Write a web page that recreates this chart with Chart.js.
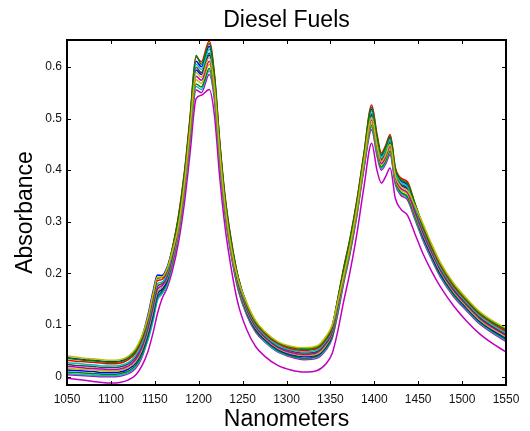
<!DOCTYPE html>
<html>
<head>
<meta charset="utf-8">
<title>Diesel Fuels</title>
<script src="https://cdn.jsdelivr.net/npm/chart.js@4"></script>
<style>
  html, body { margin: 0; padding: 0; background: #fff; }
  #wrap { width: 530px; height: 431px; }
</style>
</head>
<body>
<div id="wrap"><canvas id="spectra" width="530" height="431"></canvas></div>
<script>
// wavelengths (nm) the spectra were read at
const nm = [1050,1060,1070,1080,1090,1100,1110,1120,1128,1135,1142,1148,1153,1158,1164,1170,
    1177,1184,1190,1197,1203,1212,1218,1224,1230,1237,1245,1255,1265,1275,1290,1305,
    1320,1335,1345,1352,1358,1365,1372,1380,1388,1397,1403,1408,1413,1418,1424,1430,
    1438,1446,1455,1465,1475,1490,1505,1520,1535,1550];

// absorbance, one array per fuel sample
const fuel01 = [.040,.038,.036,.035,.033,.032,.033,.040,.054,.078,.114,.160,.193,.193,.209,.243,
    .293,.380,.478,.589,.580,.618,.560,.435,.333,.250,.188,.142,.108,.088,.068,.059,
    .056,.060,.078,.100,.142,.195,.250,.325,.415,.502,.449,.417,.430,.450,.389,.369,
    .360,.332,.298,.258,.222,.182,.152,.126,.108,.094];
const fuel02 = [.036,.034,.032,.031,.029,.028,.029,.036,.049,.073,.112,.158,.191,.192,.208,.248,
    .309,.397,.496,.622,.605,.645,.581,.452,.347,.263,.192,.139,.105,.086,.066,.057,
    .053,.057,.075,.097,.147,.208,.263,.338,.428,.522,.467,.430,.445,.466,.402,.382,
    .374,.337,.294,.254,.219,.179,.149,.123,.105,.091];
const fuel03 = [.032,.030,.029,.028,.026,.025,.026,.033,.046,.069,.107,.152,.186,.188,.205,.248,
    .312,.400,.500,.619,.610,.650,.585,.455,.350,.265,.192,.137,.103,.084,.064,.054,
    .051,.055,.072,.094,.146,.210,.265,.340,.430,.526,.470,.433,.448,.469,.405,.385,
    .377,.336,.291,.251,.216,.176,.147,.121,.103,.088];
const fuel04 = [.027,.026,.024,.023,.021,.021,.022,.028,.041,.063,.101,.145,.180,.183,.200,.241,
    .303,.390,.489,.605,.595,.634,.573,.445,.341,.258,.187,.134,.100,.081,.061,.052,
    .048,.052,.069,.091,.140,.203,.258,.333,.423,.514,.460,.425,.439,.459,.397,.377,
    .368,.330,.287,.248,.212,.173,.144,.118,.100,.085];
const fuel05 = [.037,.035,.033,.032,.030,.029,.030,.037,.051,.075,.118,.165,.197,.196,.212,.248,
    .306,.394,.493,.611,.600,.640,.577,.449,.344,.260,.192,.140,.106,.086,.066,.057,
    .054,.058,.076,.098,.146,.205,.260,.335,.425,.518,.463,.428,.442,.463,.400,.380,
    .371,.336,.295,.256,.220,.180,.150,.124,.106,.092];
const fuel06 = [.024,.022,.021,.020,.018,.018,.019,.025,.037,.059,.096,.139,.175,.180,.197,.238,
    .299,.386,.484,.599,.589,.627,.568,.441,.338,.255,.184,.131,.098,.079,.059,.050,
    .046,.049,.066,.088,.137,.200,.255,.330,.420,.509,.455,.421,.435,.455,.393,.373,
    .365,.326,.284,.245,.209,.170,.141,.115,.097,.082];
const fuel07 = [.020,.019,.017,.016,.015,.014,.015,.021,.033,.055,.092,.134,.170,.176,.193,.231,
    .290,.376,.473,.582,.574,.611,.555,.431,.329,.247,.180,.129,.096,.077,.057,.047,
    .043,.047,.064,.086,.132,.192,.247,.322,.412,.497,.445,.413,.426,.446,.385,.365,
    .356,.320,.280,.242,.207,.168,.139,.113,.095,.080];
const fuel08 = [.017,.015,.014,.013,.012,.011,.012,.018,.029,.051,.087,.128,.165,.173,.190,.228,
    .286,.372,.469,.575,.568,.605,.550,.427,.326,.244,.177,.126,.094,.075,.055,.045,
    .041,.044,.061,.083,.128,.189,.244,.319,.409,.492,.441,.410,.423,.442,.382,.362,
    .353,.317,.277,.239,.204,.165,.136,.110,.092,.077];
const fuel09 = [.013,.012,.011,.010,.008,.008,.009,.015,.026,.047,.082,.122,.160,.169,.187,.231,
    .297,.383,.481,.594,.585,.623,.564,.438,.335,.252,.179,.124,.092,.073,.053,.043,
    .039,.042,.059,.081,.131,.197,.252,.327,.417,.506,.452,.419,.433,.453,.391,.371,
    .362,.320,.274,.236,.201,.163,.134,.108,.090,.075];
const fuel10 = [.009,.008,.007,.006,.005,.005,.006,.011,.022,.042,.077,.117,.155,.165,.183,.222,
    .282,.367,.463,.567,.561,.597,.544,.422,.321,.240,.172,.122,.089,.071,.051,.041,
    .036,.040,.056,.078,.123,.185,.240,.315,.405,.487,.436,.406,.419,.437,.378,.358,
    .348,.312,.271,.233,.198,.160,.132,.106,.088,.072];
const fuel11 = [.007,.005,.004,.003,.002,.002,.003,.008,.019,.039,.070,.108,.148,.160,.178,.219,
    .279,.364,.460,.562,.556,.592,.540,.419,.319,.238,.170,.120,.088,.069,.049,.040,
    .035,.038,.054,.076,.121,.183,.238,.313,.403,.483,.432,.403,.416,.434,.375,.355,
    .346,.309,.268,.230,.196,.158,.130,.104,.086,.070];
const fuel12 = [.004,.003,.002,.001,.000,.000,.001,.006,.016,.036,.073,.112,.151,.163,.180,.216,
    .275,.360,.455,.555,.550,.585,.535,.415,.315,.235,.168,.118,.086,.068,.048,.038,
    .033,.036,.052,.074,.118,.180,.235,.310,.400,.478,.428,.400,.412,.430,.372,.352,
    .342,.306,.266,.228,.194,.156,.128,.102,.084,.068];
const fuel13 = [-.003,-.005,-.007,-.009,-.011,-.012,-.011,-.006,.003,.020,.048,.085,.122,.150,.172,.205,
    .260,.340,.430,.538,.545,.556,.505,.385,.290,.210,.140,.090,.058,.040,.022,.013,
    .009,.012,.025,.045,.085,.145,.200,.275,.365,.452,.400,.375,.388,.404,.345,.325,
    .312,.278,.240,.205,.175,.138,.108,.083,.064,.048];

// axis ticks
const xTicks = [1050,1100,1150,1200,1250,1300,1350,1400,1450,1500,1550];
const yTicks = [0,0.1,0.2,0.3,0.4,0.5,0.6];
const yTickLabels = ['0','0.1','0.2','0.3','0.4','0.5','0.6'];

const samples = [fuel01,fuel02,fuel03,fuel04,fuel05,fuel06,fuel07,fuel08,fuel09,fuel10,fuel11,fuel12,fuel13];
// old matlab line colour order
const lineColors = ['#bfbf00','#008000','#ff0000','#00bfbf','#0000ff','#404040','#bf00bf',
    '#bfbf00','#0000ff','#008000','#00bfbf','#bf00bf','#bf00bf'];

const FONT = '"Liberation Sans", Arial, Helvetica, sans-serif';

// matlab style frame: box, inward ticks on all sides, title over the plot area
const matlabAxes = {
    id: 'matlabAxes',
    afterDatasetsDraw(chart) {
        const { ctx, chartArea: a, scales } = chart;
        const len = 4;
        ctx.save();
        ctx.strokeStyle = '#000';
        ctx.lineWidth = 1;
        ctx.beginPath();
        xTicks.forEach(v => {
            const px = Math.round(scales.x.getPixelForValue(v)) + 0.5;
            ctx.moveTo(px, a.bottom); ctx.lineTo(px, a.bottom - len);
            ctx.moveTo(px, a.top); ctx.lineTo(px, a.top + len);
        });
        yTicks.forEach(v => {
            const py = Math.round(scales.y.getPixelForValue(v)) + 0.5;
            ctx.moveTo(a.left, py); ctx.lineTo(a.left + len, py);
            ctx.moveTo(a.right, py); ctx.lineTo(a.right - len, py);
        });
        ctx.stroke();
        ctx.lineWidth = 2;
        ctx.strokeRect(a.left, a.top, a.right - a.left, a.bottom - a.top);

        ctx.fillStyle = '#000';
        ctx.font = '23px ' + FONT;
        ctx.textAlign = 'center';
        ctx.textBaseline = 'alphabetic';
        ctx.fillText('Diesel Fuels', (a.left + a.right) / 2, 27);
        ctx.restore();
    }
};

new Chart(document.getElementById('spectra'), {
    type: 'line',
    data: {
        datasets: samples.map((s, i) => ({
            label: 'Sample ' + (i + 1),
            data: nm.map((w, j) => ({ x: w, y: s[j] })),
            borderColor: lineColors[i],
            borderWidth: 1.5,
            pointRadius: 0,
            fill: false,
            cubicInterpolationMode: 'monotone'
        }))
    },
    options: {
        responsive: false,
        animation: false,
        layout: { padding: { top: 40, right: 24, bottom: 0, left: 0 } },
        plugins: {
            legend: { display: false },
            tooltip: { enabled: false }
        },
        scales: {
            x: {
                type: 'linear',
                min: 1050,
                max: 1550,
                grid: { display: false, drawTicks: false },
                border: { display: false },
                afterBuildTicks: s => { s.ticks = xTicks.map(v => ({ value: v })); },
                afterFit: s => { s.height = 46; },
                ticks: {
                    padding: 7,
                    maxRotation: 0,
                    color: '#111',
                    font: { family: FONT, size: 12 },
                    callback: v => String(v)
                },
                title: {
                    display: true,
                    text: 'Nanometers',
                    color: '#000',
                    padding: { top: 0, bottom: 0 },
                    font: { family: FONT, size: 23, lineHeight: 1 }
                }
            },
            y: {
                min: -0.016,
                max: 0.652,
                grid: { display: false, drawTicks: false },
                border: { display: false },
                afterBuildTicks: s => { s.ticks = yTicks.map(v => ({ value: v })); },
                afterFit: s => { s.width = 67; },
                ticks: {
                    padding: 5,
                    color: '#111',
                    font: { family: FONT, size: 12 },
                    callback: (v, i) => yTickLabels[i]
                },
                title: {
                    display: true,
                    text: 'Absorbance',
                    color: '#000',
                    padding: { top: 14, bottom: 0 },
                    font: { family: FONT, size: 23, lineHeight: 1 }
                }
            }
        }
    },
    plugins: [matlabAxes]
});
</script>
</body>
</html>
